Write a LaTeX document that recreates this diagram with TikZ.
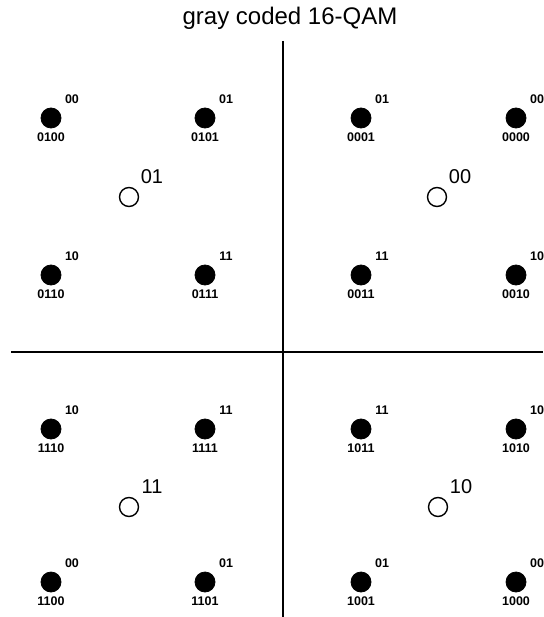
\documentclass[tikz,border=0pt]{standalone}
\usepackage{fontspec}
\setmainfont{Liberation Sans}
\begin{document}
\begin{tikzpicture}[x=1pt,y=-1pt,
  sym/.style={circle,fill=black,draw=black,line width=0.8pt,minimum size=20pt,inner sep=0pt},
  cen/.style={circle,fill=white,draw=black,line width=1.4pt,minimum size=19pt,inner sep=0pt},
  code/.style={font=\fontsize{12.5}{12.5}\selectfont\bfseries,inner sep=0pt},
  sub/.style={font=\fontsize{12.5}{12.5}\selectfont\bfseries,inner sep=0pt},
  qlab/.style={font=\fontsize{20}{20}\selectfont,inner sep=0pt},
  axis/.style={line width=2pt}]
\useasboundingbox (0,0) rectangle (543,617);
\node[font=\fontsize{24}{24}\selectfont,inner sep=0pt] (title) at (290,18) {gray coded 16-QAM};
\coordinate (vtop) at (283,41);
\coordinate (vbot) at (283,617);
\coordinate (hl) at (11,352);
\coordinate (hr) at (543,352);
\draw[axis] (vtop) -- (vbot);
\draw[axis] (hl) -- (hr);
\foreach \x/\y/\c/\s in {51/118/0100/00,205/118/0101/01,361/118/0001/01,516/118/0000/00,
  51/275/0110/10,205/275/0111/11,361/275/0011/11,516/275/0010/10,
  51/429/1110/10,205/429/1111/11,361/429/1011/11,516/429/1010/10,
  51/582/1100/00,205/582/1101/01,361/582/1001/01,516/582/1000/00}{
  \node[sym] (p\c) at (\x,\y) {};
  \node[code] (c\c) at ([yshift=-19pt]p\c.center) {\c};
  \node[sub] (s\c) at ([xshift=21pt,yshift=19pt]p\c.center) {\s};
}
\foreach \x/\y/\q in {129/197/01,437/197/00,129/507/11,438/507/10}{
  \node[cen] (q\q) at (\x,\y) {};
  \node[qlab] (l\q) at ([xshift=23pt,yshift=20pt]q\q.center) {\q};
}
\end{tikzpicture}
\end{document}
